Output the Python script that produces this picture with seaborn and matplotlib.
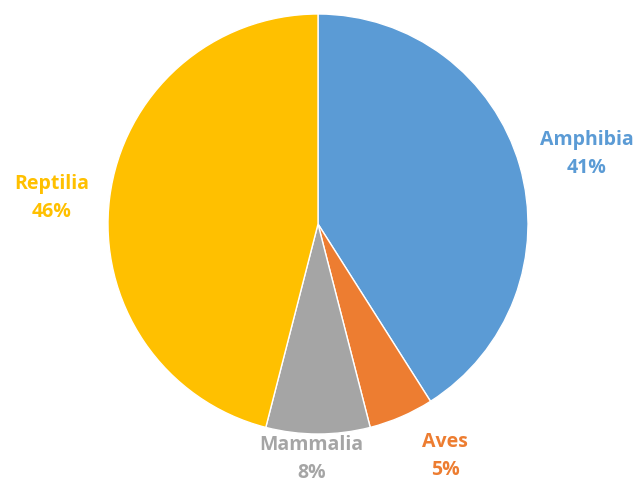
import matplotlib
matplotlib.use("Agg")
import matplotlib.pyplot as plt
import seaborn as sns

categories = ["Amphibia", "Aves", "Mammalia", "Reptilia"]
values = [41, 5, 8, 46]
colors = ["#5B9BD5", "#ED7D31", "#A5A5A5", "#FFC000"]

sns.set_theme(style="white")
plt.rcParams['font.family'] = ['Open Sans', 'DejaVu Sans']

fig = plt.figure(figsize=(6.4, 4.84), dpi=100)
ax = fig.add_axes([108/640, 50/484, 420/640, 420/484])
palette = sns.color_palette(colors)
ax.pie(values, colors=palette, startangle=90, counterclock=False,
       radius=1.0, wedgeprops=dict(edgecolor="white", linewidth=1.0))
ax.set_xlim(-1, 1)
ax.set_ylim(-1, 1)
ax.set_aspect("equal")
ax.axis("off")

label_pos = {
    "Amphibia": (1.28, 0.335),
    "Aves": (0.605, -1.105),
    "Mammalia": (-0.03, -1.12),
    "Reptilia": (-1.27, 0.125),
}
for cat, val, col in zip(categories, values, colors):
    x, y = label_pos[cat]
    ax.text(x, y, f"{cat}\n{val}%", color=col, ha="center", va="center",
            fontsize=14, fontweight="bold", linespacing=1.55, clip_on=False)

fig.savefig("out.png", dpi=100)
